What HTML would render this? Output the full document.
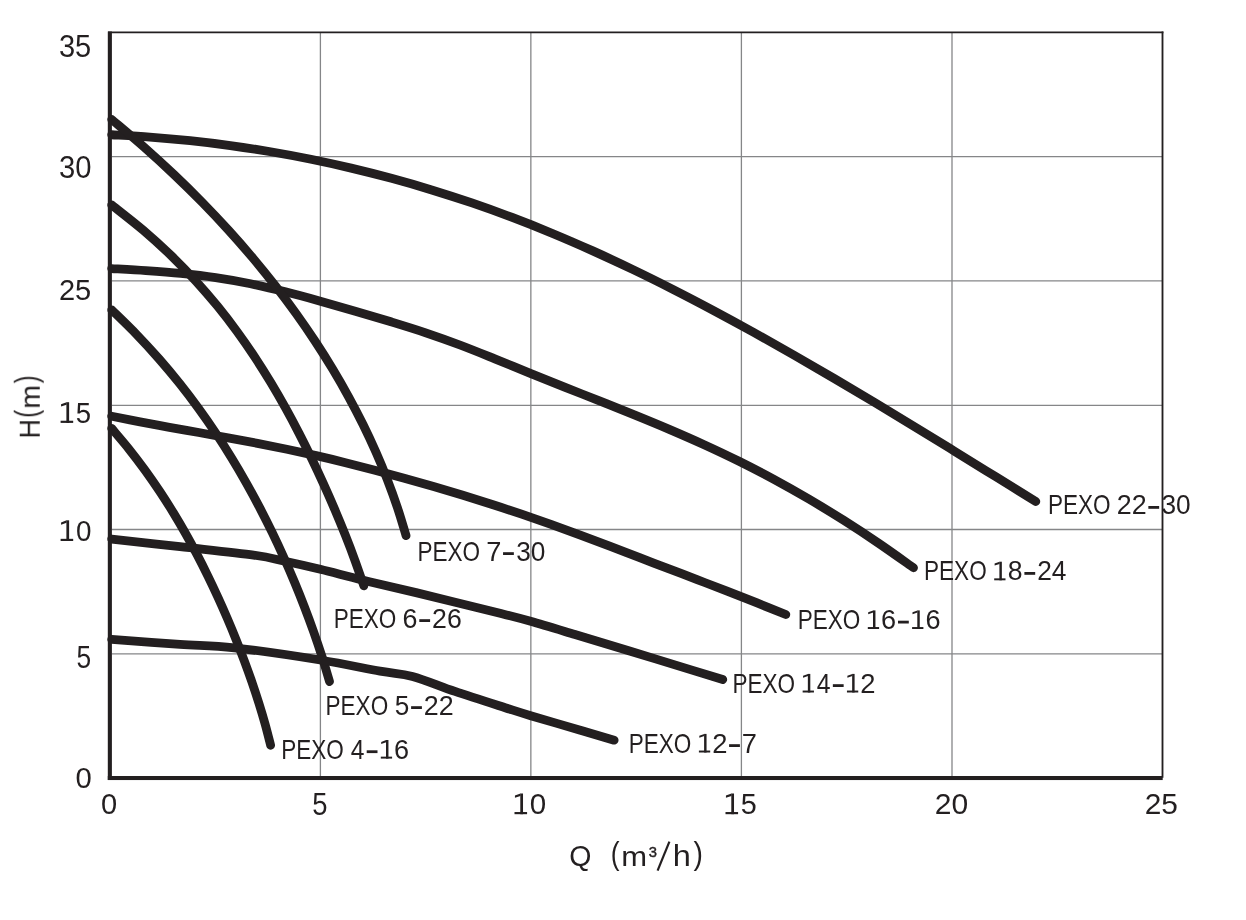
<!DOCTYPE html>
<html><head><meta charset="utf-8"><title>PEXO</title>
<style>html,body{margin:0;padding:0;background:#fff;}svg{display:block;}text{font-family:"Liberation Sans",sans-serif;fill:#231f20;}</style></head><body>
<svg width="1246" height="920" viewBox="0 0 1246 920">
<rect width="1246" height="920" fill="#fff"/>
<line x1="320.40" y1="33" x2="320.40" y2="776" stroke="#858688" stroke-width="1.3"/>
<line x1="530.85" y1="33" x2="530.85" y2="776" stroke="#858688" stroke-width="1.3"/>
<line x1="741.40" y1="33" x2="741.40" y2="776" stroke="#858688" stroke-width="1.3"/>
<line x1="952.00" y1="33" x2="952.00" y2="776" stroke="#858688" stroke-width="1.3"/>
<line x1="112" y1="156.60" x2="1162" y2="156.60" stroke="#858688" stroke-width="1.3"/>
<line x1="112" y1="280.80" x2="1162" y2="280.80" stroke="#858688" stroke-width="1.3"/>
<line x1="112" y1="405.30" x2="1162" y2="405.30" stroke="#858688" stroke-width="1.3"/>
<line x1="112" y1="529.50" x2="1162" y2="529.50" stroke="#858688" stroke-width="1.3"/>
<line x1="112" y1="653.80" x2="1162" y2="653.80" stroke="#858688" stroke-width="1.3"/>
<line x1="108" y1="32.45" x2="1163.4" y2="32.45" stroke="#231f20" stroke-width="1.75"/>
<line x1="1162.5" y1="31.6" x2="1162.5" y2="777.8" stroke="#231f20" stroke-width="1.85"/>
<clipPath id="cp"><rect x="100" y="0" width="1139" height="920"/></clipPath><g clip-path="url(#cp)" fill="none" stroke="#231f20" stroke-width="8.8" stroke-linecap="round" stroke-linejoin="round">
<path d="M111.70 134.75 C118.05 135.13 136.72 136.06 149.77 137.05 C162.83 138.04 176.62 139.27 190.05 140.70 C203.47 142.12 216.90 143.75 230.32 145.60 C243.75 147.45 257.17 149.50 270.60 151.78 C284.02 154.06 297.44 156.55 310.87 159.27 C324.29 161.99 337.72 164.93 351.14 168.10 C364.57 171.28 377.99 174.67 391.42 178.31 C404.84 181.94 418.27 185.81 431.69 189.92 C445.12 194.02 458.54 198.37 471.97 202.96 C485.39 207.55 498.81 212.38 512.24 217.46 C525.66 222.54 539.09 227.88 552.51 233.45 C565.94 239.02 579.36 244.86 592.79 250.88 C606.21 256.91 619.64 263.18 633.06 269.63 C646.49 276.07 659.91 282.74 673.33 289.56 C686.76 296.38 700.18 303.40 713.61 310.55 C727.03 317.70 740.46 325.03 753.88 332.48 C767.31 339.92 780.73 347.52 794.16 355.21 C807.58 362.90 821.01 370.73 834.43 378.62 C847.86 386.52 861.28 394.53 874.70 402.59 C888.13 410.65 901.55 418.81 914.98 426.99 C928.40 435.17 941.83 443.43 955.25 451.69 C968.68 459.95 982.10 468.27 995.53 476.56 C1008.95 484.86 1029.09 497.33 1035.80 501.49"/>
<path d="M111.70 268.55 C117.40 268.89 134.38 269.80 145.89 270.61 C157.41 271.43 169.15 272.27 180.78 273.44 C192.41 274.61 204.04 275.91 215.67 277.63 C227.30 279.35 238.93 281.39 250.57 283.76 C262.20 286.13 273.83 288.93 285.46 291.83 C297.09 294.74 308.72 297.97 320.35 301.20 C331.98 304.43 343.61 307.81 355.24 311.21 C366.87 314.60 378.50 318.01 390.13 321.58 C401.76 325.14 413.39 328.68 425.02 332.58 C436.65 336.49 448.28 340.63 459.91 345.00 C471.54 349.38 483.17 354.14 494.80 358.83 C506.43 363.51 518.07 368.41 529.70 373.12 C541.33 377.83 552.96 382.48 564.59 387.11 C576.22 391.74 587.85 396.29 599.48 400.92 C611.11 405.55 622.74 410.14 634.37 414.89 C646.00 419.63 657.63 424.40 669.26 429.37 C680.89 434.35 692.52 439.40 704.15 444.72 C715.78 450.04 727.41 455.51 739.04 461.29 C750.67 467.06 762.30 473.08 773.93 479.37 C785.57 485.67 797.20 492.23 808.83 499.05 C820.46 505.88 832.09 512.97 843.72 520.34 C855.35 527.70 866.98 535.33 878.61 543.24 C890.24 551.14 907.68 563.67 913.50 567.76"/>
<path d="M111.70 416.24 C116.43 417.19 130.43 420.06 140.05 421.90 C149.67 423.75 159.62 425.55 169.40 427.32 C179.19 429.10 188.97 430.80 198.76 432.54 C208.54 434.29 218.32 436.01 228.11 437.81 C237.89 439.61 247.68 441.43 257.46 443.34 C267.24 445.25 277.03 447.20 286.81 449.26 C296.60 451.31 306.38 453.44 316.17 455.67 C325.95 457.90 335.73 460.23 345.52 462.65 C355.30 465.06 365.09 467.58 374.87 470.17 C384.65 472.76 394.44 475.43 404.22 478.17 C414.01 480.90 423.79 483.71 433.57 486.57 C443.36 489.43 453.14 492.34 462.93 495.33 C472.71 498.32 482.49 501.36 492.28 504.50 C502.06 507.63 511.85 510.84 521.63 514.16 C531.41 517.48 541.20 520.91 550.98 524.40 C560.77 527.90 570.55 531.51 580.33 535.14 C590.12 538.78 599.90 542.50 609.69 546.21 C619.47 549.93 629.26 553.70 639.04 557.44 C648.82 561.18 658.61 564.92 668.39 568.66 C678.18 572.39 687.96 576.11 697.74 579.87 C707.53 583.62 717.31 587.37 727.10 591.17 C736.88 594.97 746.66 598.79 756.45 602.68 C766.23 606.57 780.91 612.53 785.80 614.50"/>
<path d="M111.70 119.50 C117.07 124.08 133.49 137.76 143.92 146.96 C154.34 156.16 164.48 165.47 174.22 174.72 C183.97 183.97 193.34 193.23 202.40 202.48 C211.46 211.73 220.17 220.99 228.57 230.24 C236.98 239.49 245.05 248.75 252.84 258.00 C260.63 267.25 268.10 276.51 275.30 285.76 C282.50 295.01 289.40 304.27 296.04 313.52 C302.68 322.77 309.03 332.03 315.13 341.28 C321.23 350.53 327.06 359.79 332.63 369.04 C338.21 378.29 343.52 387.55 348.59 396.80 C353.65 406.05 358.47 415.31 363.04 424.56 C367.60 433.81 371.92 443.07 376.00 452.32 C380.08 461.57 383.91 470.83 387.49 480.08 C391.08 489.33 394.42 498.59 397.51 507.84 C400.61 517.09 404.63 530.97 406.05 535.60"/>
<path d="M111.70 204.94 C116.94 209.13 133.25 221.68 143.15 230.11 C153.05 238.54 162.32 247.04 171.08 255.51 C179.85 263.98 187.99 272.45 195.74 280.92 C203.50 289.39 210.72 297.86 217.63 306.33 C224.54 314.80 230.99 323.26 237.19 331.73 C243.38 340.20 249.20 348.67 254.80 357.14 C260.40 365.61 265.69 374.08 270.81 382.55 C275.92 391.02 280.78 399.48 285.49 407.95 C290.20 416.42 294.70 424.89 299.07 433.36 C303.45 441.83 307.65 450.30 311.75 458.77 C315.84 467.24 319.78 475.70 323.62 484.17 C327.46 492.64 331.18 501.11 334.78 509.58 C338.38 518.05 341.87 526.52 345.23 534.99 C348.59 543.46 351.84 551.92 354.94 560.39 C358.04 568.86 362.34 581.57 363.83 585.80"/>
<path d="M111.70 309.90 C115.81 313.95 128.44 326.02 136.35 334.21 C144.26 342.39 151.89 350.74 159.14 359.01 C166.39 367.28 173.25 375.55 179.85 383.82 C186.44 392.09 192.69 400.36 198.71 408.63 C204.73 416.90 210.45 425.16 215.96 433.43 C221.47 441.70 226.71 449.97 231.78 458.24 C236.84 466.51 241.67 474.78 246.35 483.05 C251.02 491.32 255.48 499.58 259.80 507.85 C264.13 516.12 268.27 524.39 272.27 532.66 C276.28 540.93 280.12 549.20 283.84 557.47 C287.55 565.74 291.12 574.00 294.57 582.27 C298.01 590.54 301.32 598.81 304.50 607.08 C307.68 615.35 310.74 623.62 313.65 631.89 C316.57 640.16 319.36 648.42 322.01 656.69 C324.65 664.96 328.27 677.37 329.52 681.50"/>
<path d="M111.70 428.45 C114.59 431.90 123.47 442.18 129.05 449.15 C134.62 456.13 140.01 463.26 145.14 470.31 C150.27 477.36 155.14 484.41 159.83 491.46 C164.52 498.51 168.98 505.56 173.29 512.61 C177.60 519.66 181.72 526.72 185.70 533.77 C189.69 540.82 193.50 547.87 197.21 554.92 C200.91 561.97 204.46 569.02 207.91 576.07 C211.37 583.12 214.69 590.18 217.92 597.23 C221.15 604.28 224.27 611.33 227.29 618.38 C230.31 625.43 233.24 632.48 236.06 639.53 C238.89 646.58 241.62 653.64 244.26 660.69 C246.89 667.74 249.43 674.79 251.86 681.84 C254.29 688.89 256.62 695.94 258.83 702.99 C261.04 710.04 263.15 717.10 265.12 724.15 C267.09 731.20 269.71 741.77 270.63 745.30"/>
<path d="M111.70 539.01 C123.08 540.29 156.35 544.02 180.00 546.70 C203.65 549.38 236.10 552.68 253.60 555.10 C271.10 557.52 273.89 558.88 285.00 561.25 C296.11 563.62 307.33 566.17 320.25 569.30 C333.17 572.42 346.54 576.12 362.50 580.00 C378.46 583.88 393.08 587.05 416.00 592.60 C438.92 598.15 480.90 608.52 500.00 613.30 C519.10 618.08 518.10 617.77 530.60 621.30 C543.10 624.83 558.37 629.50 575.00 634.50 C591.63 639.50 610.90 645.37 630.40 651.30 C649.90 657.23 676.61 665.40 692.00 670.10 C707.39 674.80 717.62 677.93 722.75 679.50"/>
<path d="M111.70 639.47 C123.08 640.28 159.53 642.91 180.00 644.30 C200.47 645.69 211.12 645.18 234.50 647.80 C257.88 650.42 296.00 656.10 320.25 660.00 C344.50 663.90 364.62 668.47 380.00 671.20 C395.38 673.93 400.00 673.03 412.50 676.40 C425.00 679.77 439.55 686.18 455.00 691.40 C470.45 696.62 492.58 703.65 505.20 707.70 C517.82 711.75 518.18 711.95 530.70 715.70 C543.22 719.45 566.40 726.12 580.30 730.20 C594.20 734.28 608.47 738.53 614.10 740.20"/>
</g>
<rect x="107.8" y="31.5" width="4.1" height="748.5" fill="#231f20"/>
<rect x="107.8" y="776" width="1054.9" height="4.05" fill="#231f20"/>
<g opacity="0.999">
<text transform="translate(1048.00,514.30) scale(0.8347,1)" font-size="27.00">PEXO</text>
<text transform="translate(1116.81,514.30) scale(0.9942,1)" font-size="27.03">22</text>
<rect x="1148.35" y="506.00" width="10.8" height="2.8" fill="#231f20"/>
<text transform="translate(1161.45,514.30) scale(0.9721,1)" font-size="27.03">30</text>
<text transform="translate(924.05,580.30) scale(0.8347,1)" font-size="27.00">PEXO</text>
<g fill="#231f20"><rect x="994.20" y="578.35" width="11.30" height="1.95"/><rect x="999.40" y="561.70" width="2.45" height="18.60"/><polygon points="999.60,561.70 994.60,563.60 994.60,565.60 999.60,563.90"/></g><text transform="translate(1007.76,580.30) scale(0.9838,1)" font-size="27.03">8</text>
<rect x="1024.40" y="572.00" width="10.8" height="2.8" fill="#231f20"/>
<text transform="translate(1037.18,580.30) scale(0.9740,1)" font-size="27.03">24</text>
<text transform="translate(797.65,629.00) scale(0.8347,1)" font-size="27.00">PEXO</text>
<g fill="#231f20"><rect x="867.80" y="627.05" width="11.30" height="1.95"/><rect x="873.00" y="610.40" width="2.45" height="18.60"/><polygon points="873.20,610.40 868.20,612.30 868.20,614.30 873.20,612.60"/></g><text transform="translate(881.12,629.00) scale(1.0030,1)" font-size="27.03">6</text>
<rect x="898.00" y="620.70" width="10.8" height="2.8" fill="#231f20"/>
<g fill="#231f20"><rect x="912.10" y="627.05" width="11.30" height="1.95"/><rect x="917.30" y="610.40" width="2.45" height="18.60"/><polygon points="917.50,610.40 912.50,612.30 912.50,614.30 917.50,612.60"/></g><text transform="translate(925.42,629.00) scale(1.0030,1)" font-size="27.03">6</text>
<text transform="translate(732.50,692.50) scale(0.8347,1)" font-size="27.00">PEXO</text>
<g fill="#231f20"><rect x="802.65" y="690.55" width="11.30" height="1.95"/><rect x="807.85" y="673.90" width="2.45" height="18.60"/><polygon points="808.05,673.90 803.05,675.80 803.05,677.80 808.05,676.10"/></g><text transform="translate(816.78,692.50) scale(0.9174,1)" font-size="27.03">4</text>
<rect x="832.85" y="684.20" width="10.8" height="2.8" fill="#231f20"/>
<g fill="#231f20"><rect x="846.95" y="690.55" width="11.30" height="1.95"/><rect x="852.15" y="673.90" width="2.45" height="18.60"/><polygon points="852.35,673.90 847.35,675.80 847.35,677.80 852.35,676.10"/></g><text transform="translate(860.28,692.50) scale(1.0140,1)" font-size="27.03">2</text>
<text transform="translate(628.75,752.50) scale(0.8347,1)" font-size="27.00">PEXO</text>
<g fill="#231f20"><rect x="698.90" y="750.55" width="11.30" height="1.95"/><rect x="704.10" y="733.90" width="2.45" height="18.60"/><polygon points="704.30,733.90 699.30,735.80 699.30,737.80 704.30,736.10"/></g><text transform="translate(712.23,752.50) scale(1.0140,1)" font-size="27.03">2</text>
<rect x="729.10" y="744.20" width="10.8" height="2.8" fill="#231f20"/>
<text transform="translate(741.81,752.50) scale(1.0081,1)" font-size="27.03">7</text>
<text transform="translate(417.50,560.50) scale(0.8347,1)" font-size="27.00">PEXO</text>
<text transform="translate(486.26,560.50) scale(1.0081,1)" font-size="27.03">7</text>
<rect x="503.05" y="552.20" width="10.8" height="2.8" fill="#231f20"/>
<text transform="translate(516.15,560.50) scale(0.9721,1)" font-size="27.03">30</text>
<text transform="translate(333.75,627.50) scale(0.8347,1)" font-size="27.00">PEXO</text>
<text transform="translate(402.53,627.50) scale(0.9949,1)" font-size="27.03">6</text>
<rect x="419.30" y="619.20" width="10.8" height="2.8" fill="#231f20"/>
<text transform="translate(432.06,627.50) scale(0.9883,1)" font-size="27.03">26</text>
<text transform="translate(325.55,714.50) scale(0.8347,1)" font-size="27.00">PEXO</text>
<text transform="translate(394.65,714.50) scale(0.9677,1)" font-size="27.03">5</text>
<rect x="411.10" y="706.20" width="10.8" height="2.8" fill="#231f20"/>
<text transform="translate(423.86,714.50) scale(0.9942,1)" font-size="27.03">22</text>
<text transform="translate(281.15,758.60) scale(0.8347,1)" font-size="27.00">PEXO</text>
<text transform="translate(350.73,758.60) scale(0.9101,1)" font-size="27.03">4</text>
<rect x="366.70" y="750.30" width="10.8" height="2.8" fill="#231f20"/>
<g fill="#231f20"><rect x="380.80" y="756.65" width="11.30" height="1.95"/><rect x="386.00" y="740.00" width="2.45" height="18.60"/><polygon points="386.20,740.00 381.20,741.90 381.20,743.90 386.20,742.20"/></g><text transform="translate(394.12,758.60) scale(1.0030,1)" font-size="27.03">6</text>
<text transform="translate(58.90,56.89) scale(0.9528,1)" font-size="30.51">35</text>
<text transform="translate(58.89,178.09) scale(0.9536,1)" font-size="30.65">30</text>
<text transform="translate(58.95,300.10) scale(0.9601,1)" font-size="30.23">25</text>
<g fill="#231f20"><rect x="60.60" y="420.73" width="12.58" height="2.17"/><rect x="66.39" y="402.20" width="2.73" height="20.70"/><polygon points="66.61,402.20 61.05,404.31 61.05,406.54 66.61,404.65"/></g><text transform="translate(75.86,422.90) scale(0.9144,1)" font-size="30.09">5</text>
<g fill="#231f20"><rect x="60.60" y="538.83" width="12.58" height="2.17"/><rect x="66.39" y="520.30" width="2.73" height="20.70"/><polygon points="66.61,520.30 61.05,522.41 61.05,524.64 66.61,522.75"/></g><text transform="translate(75.88,541.00) scale(0.9241,1)" font-size="30.09">0</text>
<text transform="translate(76.45,668.20) scale(0.8662,1)" font-size="30.44">5</text>
<text transform="translate(75.46,788.20) scale(0.9690,1)" font-size="30.23">0</text>
<text transform="translate(100.97,814.45) scale(0.9643,1)" font-size="30.16">0</text>
<text transform="translate(312.20,814.70) scale(0.9009,1)" font-size="30.44">5</text>
<g fill="#231f20"><rect x="514.50" y="812.03" width="12.58" height="2.17"/><rect x="520.29" y="793.50" width="2.73" height="20.70"/><polygon points="520.51,793.50 514.95,795.61 514.95,797.84 520.51,795.95"/></g><text transform="translate(529.71,814.20) scale(0.9832,1)" font-size="30.09">0</text>
<g fill="#231f20"><rect x="725.50" y="812.03" width="12.58" height="2.17"/><rect x="731.29" y="793.50" width="2.73" height="20.70"/><polygon points="731.51,793.50 725.95,795.61 725.95,797.84 731.51,795.95"/></g><text transform="translate(740.71,814.20) scale(0.9565,1)" font-size="30.09">5</text>
<text transform="translate(934.75,814.20) scale(1.0015,1)" font-size="30.01">20</text>
<text transform="translate(1144.75,814.20) scale(0.9963,1)" font-size="30.01">25</text>
<g transform="translate(39.75,436.25) rotate(-90)">
<text transform="translate(-2.20,0.00) scale(0.8885,1)" font-size="30.20">H</text>
<text transform="translate(18.54,-2.61) scale(0.7389,1)" font-size="31.92">(</text>
<text transform="translate(27.47,0.00) scale(1.0233,1)" font-size="27.88">m</text>
<text transform="translate(53.01,-2.61) scale(0.7330,1)" font-size="31.92">)</text>
</g>
<text transform="translate(569.16,866.00) scale(0.9517,1)" font-size="30.00">Q</text>
<text transform="translate(610.86,864.20) scale(0.8345,1)" font-size="31.65">(</text>
<text transform="translate(621.20,866.25) scale(1.1128,1)" font-size="27.88">m</text>
<text stroke="#231f20" stroke-width="0.45" transform="translate(648.69,856.85) scale(0.9726,1)" font-size="15.18">3</text>
<line x1="657.6" y1="870.6" x2="669.4" y2="841.6" stroke="#231f20" stroke-width="2.2"/>
<text transform="translate(672.75,866.25) scale(1.0789,1)" font-size="30.20">h</text>
<text transform="translate(693.58,864.20) scale(0.8941,1)" font-size="31.65">)</text>
</g>
</svg></body></html>
